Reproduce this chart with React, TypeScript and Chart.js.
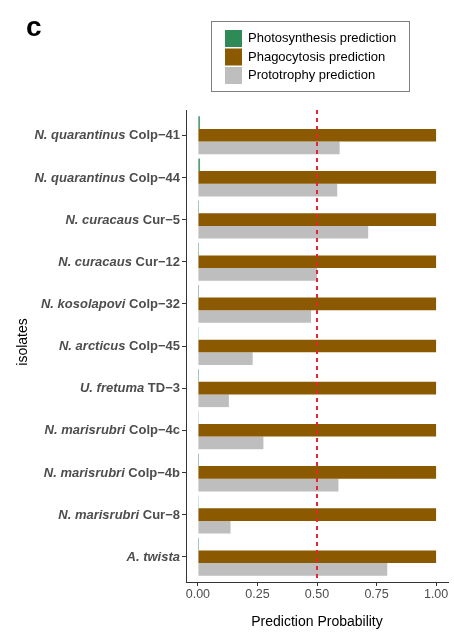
import React, { useEffect, useRef } from "react";
import { Chart, registerables } from "chart.js";

Chart.register(...registerables);

const species: string[] = [
  "N. quarantinus", "N. quarantinus", "N. curacaus", "N. curacaus", "N. kosolapovi",
  "N. arcticus", "U. fretuma", "N. marisrubri", "N. marisrubri", "N. marisrubri", "A. twista",
];
const strains: string[] = [
  "Colp\u221241", "Colp\u221244", "Cur\u22125", "Cur\u221212", "Colp\u221232",
  "Colp\u221245", "TD\u22123", "Colp\u22124c", "Colp\u22124b", "Cur\u22128", "",
];
const photosynthesis: number[] = [0.008, 0.008, 0.004, 0.004, 0.004, 0.003, 0.004, 0.003, 0.004, 0.003, 0.004];
const phagocytosis: number[] = [1, 1, 1, 1, 1, 1, 1, 1, 1, 1, 1];
const prototrophy: number[] = [0.595, 0.585, 0.715, 0.5, 0.475, 0.23, 0.13, 0.275, 0.59, 0.137, 0.795];
const xTicks: number[] = [0, 0.25, 0.5, 0.75, 1];
const threshold = 0.5;
const seriesNames: string[] = ["Photosynthesis prediction", "Phagocytosis prediction", "Prototrophy prediction"];
const seriesColors: string[] = ["#2E8B57", "#8B5A00", "#BEBEBE"];

const toPoints = (arr: number[]) => arr.map((v, i) => ({ x: v, y: i }));

export default function App() {
  const ref = useRef<HTMLCanvasElement | null>(null);

  useEffect(() => {
    document.body.style.margin = "0";
    const canvas = ref.current!;
    const FONT = "'Liberation Sans', Arial, sans-serif";

    const overlay = {
      id: "overlay",
      afterDatasetsDraw(chart: any) {
        const { ctx, chartArea, scales } = chart;
        const xs = scales.x;
        ctx.save();
        ctx.strokeStyle = "#E0282E";
        ctx.lineWidth = 2;
        ctx.setLineDash([4, 4]);
        const px = Math.round(xs.getPixelForValue(threshold));
        ctx.beginPath();
        ctx.moveTo(px, chartArea.top);
        ctx.lineTo(px, chartArea.bottom);
        ctx.stroke();
        ctx.restore();
      },
      afterDraw(chart: any) {
        const { ctx, chartArea, scales } = chart;
        const ys = scales.y;
        ctx.save();
        ctx.fillStyle = "#4D4D4D";
        ctx.textBaseline = "middle";
        ctx.textAlign = "left";
        const rightX = chartArea.left - 6;
        species.forEach((sp, i) => {
          const y = ys.getPixelForValue(i) + 0.5;
          ctx.font = `bold 13px ${FONT}`;
          const st = strains[i];
          const stW = st ? ctx.measureText(st).width : 0;
          ctx.font = `italic bold 13px ${FONT}`;
          const spText = st ? sp + " " : sp;
          const spW = ctx.measureText(spText).width;
          const startX = rightX - stW - spW;
          ctx.fillText(spText, startX, y);
          if (st) {
            ctx.font = `bold 13px ${FONT}`;
            ctx.fillText(st, startX + spW, y);
          }
        });
        ctx.fillStyle = "#000";
        ctx.font = `14px ${FONT}`;
        ctx.translate(23, (chartArea.top + chartArea.bottom) / 2 - 4);
        ctx.rotate(-Math.PI / 2);
        ctx.textAlign = "center";
        ctx.textBaseline = "middle";
        ctx.fillText("isolates", 0, 0);
        ctx.setTransform(1, 0, 0, 1, 0, 0);
        ctx.font = `14px ${FONT}`;
        ctx.textAlign = "center";
        ctx.textBaseline = "middle";
        ctx.fillText("Prediction Probability", (chartArea.left + chartArea.right) / 2, 622);
        ctx.font = `bold 28px ${FONT}`;
        ctx.textAlign = "left";
        ctx.textBaseline = "alphabetic";
        ctx.fillText("c", 26, 36);
        ctx.strokeStyle = "#7F7F7F";
        ctx.lineWidth = 1;
        ctx.strokeRect(211.5, 21.5, 198, 70);
        ctx.font = `13px ${FONT}`;
        ctx.textBaseline = "middle";
        seriesNames.forEach((name, i) => {
          const top = 30 + i * 18.5;
          ctx.fillStyle = seriesColors[i];
          ctx.fillRect(225, top, 17, 17);
          ctx.fillStyle = "#000";
          ctx.fillText(name, 248, top + 8.5);
        });
        ctx.restore();
      },
    };

    const chart = new Chart(canvas, {
      type: "bar",
      data: {
        datasets: [
          { label: seriesNames[0], data: toPoints(photosynthesis), backgroundColor: seriesColors[0] },
          { label: seriesNames[1], data: toPoints(phagocytosis), backgroundColor: seriesColors[1] },
          { label: seriesNames[2], data: toPoints(prototrophy), backgroundColor: seriesColors[2] },
        ],
      },
      options: {
        indexAxis: "y",
        animation: false,
        responsive: false,
        devicePixelRatio: 1,
        layout: { padding: { top: 110, right: 6, left: 0, bottom: 0 } },
        datasets: { bar: { categoryPercentage: 0.9, barPercentage: 1, borderWidth: 0 } },
        plugins: { legend: { display: false }, tooltip: { enabled: false } },
        scales: {
          x: {
            type: "linear",
            min: -0.05,
            max: 1.05,
            afterBuildTicks: (s: any) => {
              s.ticks = xTicks.map((v) => ({ value: v }));
            },
            afterFit: (s: any) => {
              s.height = 52;
            },
            ticks: {
              color: "#4D4D4D",
              font: { family: FONT, size: 12.5 },
              padding: 1,
              maxRotation: 0,
              callback: (v: any) => Number(v).toFixed(2),
            },
            grid: { drawOnChartArea: false, drawTicks: true, tickLength: 4, color: "#333333", offset: false },
            border: { display: true, color: "#333333", width: 1 },
          },
          y: {
            type: "linear",
            reverse: true,
            offset: false,
            min: -0.6,
            max: species.length - 1 + 0.6,
            afterBuildTicks: (s: any) => {
              s.ticks = species.map((_, i) => ({ value: i }));
            },
            afterFit: (s: any) => {
              s.width = 186;
            },
            ticks: { callback: () => "", padding: 0 },
            grid: { drawOnChartArea: false, drawTicks: true, tickLength: 4, color: "#333333", offset: false },
            border: { display: true, color: "#333333", width: 1 },
          },
        },
      },
      plugins: [overlay],
    } as any);

    return () => chart.destroy();
  }, []);

  return <canvas ref={ref} width={454} height={634} style={{ display: "block" }} />;
}
